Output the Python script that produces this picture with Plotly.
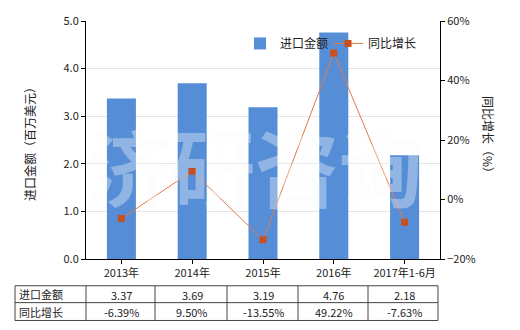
import plotly.graph_objects as go

categories = ["2013年", "2014年", "2015年", "2016年", "2017年1-6月"]
import_values = [3.37, 3.69, 3.19, 4.76, 2.18]
growth_values = [-6.39, 9.50, -13.55, 49.22, -7.63]
import_labels = ["3.37", "3.69", "3.19", "4.76", "2.18"]
growth_labels = ["-6.39%", "9.50%", "-13.55%", "49.22%", "-7.63%"]
row_names = ["进口金额", "同比增长"]

FONT = "Noto Sans CJK SC"
W, H = 520, 330
L, R, T, B = 86, 80, 19, 71
pw, ph = W - L - R, H - T - B

def px(x):
    return (x - L) / pw

def py(y):
    return (H - B - y) / ph

fig = go.Figure()
fig.add_trace(go.Bar(x=categories, y=import_values, name="进口金额",
                     marker=dict(color="#558ED6", line=dict(width=0)),
                     width=0.41, yaxis="y"))
fig.add_trace(go.Scatter(x=categories, y=growth_values, name="同比增长",
                         mode="lines+markers",
                         line=dict(color="#E07A48", width=1),
                         marker=dict(symbol="square", size=7, color="#C9501C"),
                         yaxis="y2"))

# table lines
ys = [286, 303, 321]
xs = [15, 86, 155, 227, 298, 368, 438]
for y in ys:
    fig.add_shape(type="line", xref="paper", yref="paper", layer="above",
                  x0=px(15), x1=px(438), y0=py(y), y1=py(y),
                  line=dict(color="#444444", width=1))
for x in xs:
    fig.add_shape(type="line", xref="paper", yref="paper", layer="above",
                  x0=px(x), x1=px(x), y0=py(286), y1=py(321),
                  line=dict(color="#444444", width=1))

tfont = dict(family=FONT, size=11, color="#222")
for i, c in enumerate(categories):
    fig.add_annotation(x=c, xref="x", y=py(295), yref="paper",
                       text=import_labels[i], showarrow=False,
                       xanchor="center", yanchor="middle", font=tfont)
    fig.add_annotation(x=c, xref="x", y=py(312.5), yref="paper",
                       text=growth_labels[i], showarrow=False,
                       xanchor="center", yanchor="middle", font=tfont)
for j, nm in enumerate(row_names):
    fig.add_annotation(x=px(17), xref="paper", y=py(294.5 + 17.5 * j), yref="paper",
                       text=nm, showarrow=False, xanchor="left", yanchor="middle",
                       font=tfont)

# axis titles
fig.add_annotation(x=px(30), xref="paper", y=py(140), yref="paper",
                   text="进口金额（百万美元）", showarrow=False, textangle=-90,
                   xanchor="center", yanchor="middle",
                   font=dict(family=FONT, size=12, color="#222"))
fig.add_annotation(x=px(489), xref="paper", y=py(136), yref="paper",
                   text="同比增长（%）", showarrow=False, textangle=90,
                   xanchor="center", yanchor="middle",
                   font=dict(family=FONT, size=12, color="#222"))

# watermark
fig.add_annotation(x=px(255), xref="paper", y=py(164), yref="paper",
                   text="<b>济研咨询</b>", showarrow=False,
                   xanchor="center", yanchor="middle",
                   font=dict(family=FONT, size=84, color="rgba(250,250,250,0.36)"))

fig.update_layout(
    width=W, height=H,
    margin=dict(l=L, r=R, t=T, b=B, pad=0),
    paper_bgcolor="white", plot_bgcolor="white",
    font=dict(family=FONT, size=11, color="#222"),
    xaxis=dict(showline=True, linecolor="#000", linewidth=1, ticks="outside",
               ticklen=4, tickcolor="#000", tickfont=dict(size=11, color="#222"),
               showgrid=False, zeroline=False),
    yaxis=dict(range=[0, 5], dtick=1, tickformat=".1f", showline=True,
               linecolor="#000", linewidth=1, ticks="outside", ticklen=4,
               tickcolor="#000", gridcolor="#E6E6E6", zeroline=False),
    yaxis2=dict(range=[-20, 60], dtick=20, ticksuffix="%", overlaying="y",
                side="right", showline=True, linecolor="#000", linewidth=1,
                ticks="outside", ticklen=4, tickcolor="#000", showgrid=False,
                zeroline=False),
    legend=dict(orientation="h", x=px(240), y=py(27), xanchor="left", yanchor="top",
                bgcolor="rgba(0,0,0,0)", font=dict(size=12, color="#222"),
                entrywidth=43, entrywidthmode="pixels", traceorder="normal"),
    showlegend=True,
)

fig.write_html("out.html")
